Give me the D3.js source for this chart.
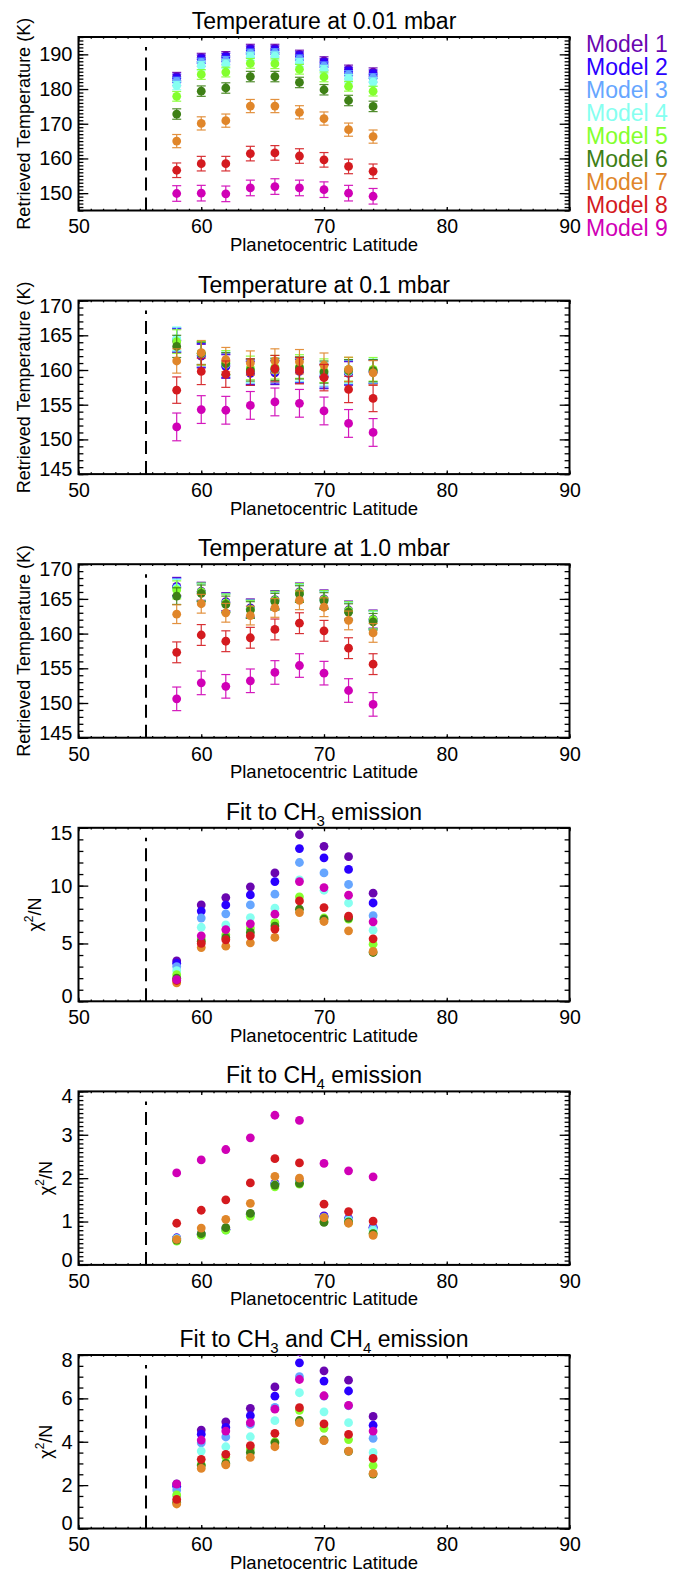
<!DOCTYPE html>
<html><head><meta charset="utf-8">
<script src="https://cdn.jsdelivr.net/npm/d3@7"></script>
<style>
body{margin:0;background:#fff;}
svg text{font-family:"Liberation Sans",Arial,Helvetica,sans-serif;fill:#000;}
</style></head><body>
<svg id="fig" width="688" height="1572"></svg>
<script>
// Latitude grid of the retrievals
const latitudes = [58, 60, 62, 64, 66, 68, 70, 72, 74];
const boundaryLatitude = 55.5;

const modelNames = ["Model 1","Model 2","Model 3","Model 4","Model 5","Model 6","Model 7","Model 8","Model 9"];
const modelColors = ["#6a06b0","#2a00ff","#66a6ff","#86fff0","#84ff2e","#3e8016","#e0862a","#d41a1f","#d000b6"];

// Retrieved temperature at 0.01 mbar (K), one row per model
const temp001 = [
  [183.6,189.1,189.6,191.7,191.7,190.0,188.1,185.7,184.9],
  [183.1,188.6,189.1,191.2,191.2,189.5,187.5,185.1,184.3],
  [182.2,187.7,188.2,190.3,190.4,188.6,186.6,184.1,183.2],
  [181.0,186.7,187.2,189.4,189.5,187.6,185.6,183.0,182.0],
  [177.9,184.2,184.9,187.4,187.3,185.7,183.5,180.8,179.4],
  [172.8,179.4,180.3,183.6,183.6,181.9,179.8,176.7,175.0],
  [165.0,170.1,170.9,175.1,175.1,173.3,171.5,168.3,166.3],
  [156.6,158.5,158.5,161.4,161.6,160.7,159.6,157.7,156.3],
  [149.9,150.0,149.8,151.5,151.9,151.5,151.0,150.0,149.1]
];
const err001 = [1.2,1.2,1.2,1.2,1.4,1.5,1.9,2.1,2.25];

// Retrieved temperature at 0.1 mbar (K)
const temp01 = [
  [164.2,162.0,160.5,159.5,159.6,159.8,159.0,159.5,159.7],
  [164.3,162.1,160.6,159.6,159.7,159.9,159.1,159.6,159.8],
  [164.4,162.3,160.8,159.8,159.9,160.0,159.3,159.7,159.8],
  [164.5,162.4,160.9,159.9,160.0,160.1,159.5,159.8,159.9],
  [164.1,162.4,161.1,160.3,160.4,160.5,159.9,160.1,160.1],
  [163.4,162.4,160.9,160.0,160.1,160.3,159.7,159.9,159.9],
  [161.3,162.5,161.5,161.0,161.3,161.2,160.7,160.1,159.6],
  [157.1,159.8,159.4,159.7,160.2,159.9,158.9,157.2,155.9],
  [151.8,154.3,154.2,154.9,155.4,155.2,154.1,152.3,151.0]
];
const err01 = [1.7,1.7,1.7,1.7,1.7,1.6,1.75,1.9,2.0];

// Retrieved temperature at 1.0 mbar (K)
const temp1 = [
  [166.8,166.1,164.6,163.7,164.9,166.0,165.0,163.4,162.1],
  [166.7,166.0,164.5,163.6,164.8,165.9,164.9,163.3,162.0],
  [166.6,165.9,164.4,163.5,164.7,165.8,164.8,163.2,161.9],
  [166.5,165.9,164.4,163.5,164.7,165.8,164.8,163.2,161.9],
  [166.3,166.0,164.4,163.5,164.8,165.9,164.9,163.3,162.0],
  [165.4,165.8,164.2,163.4,164.6,165.7,164.7,163.1,161.7],
  [162.8,164.3,163.0,162.6,163.7,164.8,163.8,161.9,160.1],
  [157.3,159.8,158.9,159.4,160.6,161.5,160.4,157.9,155.6],
  [150.6,152.9,152.4,153.2,154.4,155.4,154.3,151.8,149.8]
];
const err1 = [1.3,1.3,1.3,1.3,1.3,1.2,1.35,1.5,1.7];

// Reduced chi-square of the fit to CH3 emission
const chiCH3 = [
  [3.5,8.33,8.97,9.9,11.1,14.4,13.4,12.5,9.35],
  [3.3,7.8,8.33,9.2,10.35,13.2,12.4,11.4,8.5],
  [3.0,7.2,7.56,8.33,9.26,12.0,11.1,10.1,7.4],
  [2.65,6.4,6.6,7.24,8.05,10.5,9.6,8.5,6.15],
  [2.3,5.4,5.75,6.33,6.8,9.03,7.2,7.1,4.94],
  [2.0,5.2,5.5,5.95,6.5,7.96,7.1,7.2,4.22],
  [1.6,4.65,4.77,5.06,5.52,7.67,6.9,6.09,4.31],
  [1.8,5.0,5.32,5.66,6.24,8.68,8.1,7.36,5.4],
  [1.87,5.66,6.2,6.7,7.53,10.35,9.83,9.17,6.87]
];

// Reduced chi-square of the fit to CH4 emission
const chiCH4 = [
  [0.62,0.70,0.82,1.17,1.88,1.92,1.13,1.07,0.87],
  [0.62,0.71,0.82,1.16,1.87,1.92,1.12,1.06,0.86],
  [0.61,0.70,0.81,1.15,1.86,1.91,1.10,1.05,0.84],
  [0.60,0.70,0.80,1.14,1.85,1.90,1.07,1.02,0.80],
  [0.55,0.68,0.80,1.12,1.80,1.86,1.00,0.97,0.72],
  [0.57,0.72,0.86,1.19,1.84,1.88,0.98,0.99,0.72],
  [0.59,0.85,1.05,1.42,2.04,2.00,1.09,0.96,0.68],
  [0.96,1.26,1.50,1.89,2.45,2.35,1.40,1.23,1.01],
  [2.12,2.42,2.66,2.93,3.45,3.33,2.34,2.17,2.03]
];

// Reduced chi-square of the joint CH3 + CH4 fit
const chiBoth = [
  [2.06,4.54,4.92,5.54,6.53,8.15,7.27,6.84,5.17],
  [1.95,4.35,4.66,5.2,6.1,7.64,6.8,6.34,4.76],
  [1.77,3.95,4.22,4.8,5.58,7.0,6.1,5.66,4.16],
  [1.5,3.57,3.77,4.23,4.97,6.26,5.38,4.88,3.51],
  [1.55,2.95,3.3,3.67,4.0,5.45,4.62,4.1,2.9],
  [1.2,2.9,3.0,3.5,3.95,4.98,4.08,3.56,2.51],
  [1.13,2.77,2.93,3.28,3.77,4.88,4.05,3.57,2.54],
  [1.34,3.19,3.42,3.82,4.39,5.57,4.82,4.34,3.23],
  [2.05,4.08,4.49,4.88,5.5,6.87,6.12,5.68,4.49]
];

const xTicks = [50, 60, 70, 80, 90];
const panelTitles = ["Temperature at 0.01 mbar","Temperature at 0.1 mbar","Temperature at 1.0 mbar",
  "Fit to CH_3 emission","Fit to CH_4 emission","Fit to CH_3 and CH_4 emission"];

const panels = [
  {title: panelTitles[0], data: temp001, err: err001, domain: [145,195], major: 10, minor: 1, ylab: "T"},
  {title: panelTitles[1], data: temp01,  err: err01,  domain: [145,170], major: 5,  minor: 1, ylab: "T"},
  {title: panelTitles[2], data: temp1,   err: err1,   domain: [145,170], major: 5,  minor: 1, ylab: "T"},
  {title: panelTitles[3], data: chiCH3,  err: null,   domain: [0,15],    major: 5,  minor: 1, ylab: "C"},
  {title: panelTitles[4], data: chiCH4,  err: null,   domain: [0,4],     major: 1,  minor: 0.1, ylab: "C"},
  {title: panelTitles[5], data: chiBoth, err: null,   domain: [0,8],     major: 2,  minor: 0.5, ylab: "C"}
];

// Layout
const X0 = 78.5, X1 = 569.5, TOP0 = 37, STEP = 263.6, PH = 173.5;
const TL_Y = 9.8, TL_X = 3.5;   // tick lengths (inward)
const R = 4.4;
const FONT = '"Liberation Sans",Arial,sans-serif';

const svg = d3.select("#fig");
const x = d3.scaleLinear().domain([50, 90]).range([X0, X1]);

// multiples of step lying inside [a, b]
function multiples(a, b, s) {
  const out = [];
  const i0 = Math.ceil(a / s - 1e-9), i1 = Math.floor(b / s + 1e-9);
  for (let i = i0; i <= i1; i++) out.push(+(i * s).toFixed(6));
  return out;
}

function addScripted(textSel, str, subSize, shift) {
  const parts = str.split(/_(\d)/);
  let pending = 0;
  parts.forEach((p, i) => {
    if (!p) return;
    if (i % 2 === 1) {
      textSel.append("tspan").attr("font-size", subSize).attr("dy", shift).text(p);
      pending = -shift;
    } else {
      textSel.append("tspan").attr("dy", pending || null).text(p);
      pending = 0;
    }
  });
}

panels.forEach((p, pi) => {
  const top = TOP0 + pi * STEP, bot = top + PH;
  const y = d3.scaleLinear().domain(p.domain).range([bot, top]);
  const g = svg.append("g");

  const clipId = "clip" + pi;
  svg.append("clipPath").attr("id", clipId).append("rect")
    .attr("x", X0).attr("y", top).attr("width", X1 - X0).attr("height", PH);

  // title
  const t = g.append("text").attr("x", (X0 + X1) / 2).attr("y", top - 8)
    .attr("text-anchor", "middle").attr("font-size", 23);
  addScripted(t, p.title, 15, 6);

  // axes (ticks inward on all four sides)
  const majors = multiples(p.domain[0], p.domain[1], p.major);
  const minors = multiples(p.domain[0], p.domain[1], p.minor);
  const xMinor = multiples(50, 90, 1);

  const axStyle = sel => {
    sel.select(".domain").remove();
    sel.selectAll("line").attr("stroke", "#000").attr("stroke-width", 1.3);
  };

  g.append("g").attr("transform", `translate(0,${bot})`)
    .call(d3.axisBottom(x).tickValues(xMinor).tickSize(-TL_X / 2).tickFormat(""))
    .call(axStyle);
  g.append("g").attr("transform", `translate(0,${top})`)
    .call(d3.axisTop(x).tickValues(xMinor).tickSize(-TL_X / 2).tickFormat(""))
    .call(axStyle);
  g.append("g").attr("transform", `translate(0,${bot})`)
    .call(d3.axisBottom(x).tickValues(xTicks).tickSize(-TL_X).tickPadding(9).tickFormat(d3.format("d")))
    .call(axStyle)
    .selectAll("text").attr("font-size", 19.5).attr("fill", "#000").attr("font-family", FONT);
  g.append("g").attr("transform", `translate(0,${top})`)
    .call(d3.axisTop(x).tickValues(xTicks).tickSize(-TL_X).tickFormat(""))
    .call(axStyle);

  g.append("g").attr("transform", `translate(${X0},0)`)
    .call(d3.axisLeft(y).tickValues(minors).tickSize(-TL_Y / 2).tickFormat(""))
    .call(axStyle);
  g.append("g").attr("transform", `translate(${X1},0)`)
    .call(d3.axisRight(y).tickValues(minors).tickSize(-TL_Y / 2).tickFormat(""))
    .call(axStyle);
  const yl = g.append("g").attr("transform", `translate(${X0},0)`)
    .call(d3.axisLeft(y).tickValues(majors).tickSize(-TL_Y).tickPadding(6).tickFormat(d3.format("d")))
    .call(axStyle);
  yl.selectAll("text").attr("font-size", 20).attr("fill", "#000").attr("font-family", FONT)
    .attr("transform", d => d === p.domain[1] ? "translate(0,5)" : d === p.domain[0] ? "translate(0,-5)" : null);
  g.append("g").attr("transform", `translate(${X1},0)`)
    .call(d3.axisRight(y).tickValues(majors).tickSize(-TL_Y).tickFormat(""))
    .call(axStyle);

  // frame
  g.append("rect").attr("x", X0).attr("y", top).attr("width", X1 - X0).attr("height", PH)
    .attr("fill", "none").attr("stroke", "#000").attr("stroke-width", 2);

  // x-axis title
  g.append("text").attr("x", (X0 + X1) / 2).attr("y", bot + 40.5)
    .attr("text-anchor", "middle").attr("font-size", 18.5).text("Planetocentric Latitude");

  // y-axis title
  const nChars = d3.max(majors, d => String(d).length);
  const bx = X0 - 6 - nChars * 11 - 10;
  const yt = g.append("text").attr("transform", `translate(${bx},${(top + bot) / 2}) rotate(-90)`)
    .attr("text-anchor", "middle").attr("font-size", 18);
  if (p.ylab === "T") {
    yt.text("Retrieved Temperature (K)");
  } else {
    yt.append("tspan").text("\u03C7");
    yt.append("tspan").attr("font-size", 12).attr("dy", -8).text("2");
    yt.append("tspan").attr("dy", 8).text("/N");
  }

  // boundary marker
  g.append("line").attr("x1", x(boundaryLatitude)).attr("x2", x(boundaryLatitude))
    .attr("y1", bot).attr("y2", top + 10)
    .attr("stroke", "#000").attr("stroke-width", 2).attr("stroke-dasharray", "13,7");

  // data: one model at a time, later models drawn on top
  const plot = g.append("g").attr("clip-path", `url(#${clipId})`);
  p.data.forEach((row, mi) => {
    const col = modelColors[mi];
    const pts = latitudes.map((lat, k) => ({lat, v: row[k]}));
    if (p.err) {
      const e = p.err[mi];
      const eb = plot.append("g").attr("stroke", col).attr("stroke-width", 1.2).attr("opacity", 0.9);
      pts.forEach(d => {
        const cx = x(d.lat), ylo = y(d.v - e), yhi = y(d.v + e);
        eb.append("line").attr("x1", cx).attr("x2", cx).attr("y1", ylo).attr("y2", yhi);
        eb.append("line").attr("x1", cx - 4.5).attr("x2", cx + 4.5).attr("y1", ylo).attr("y2", ylo);
        eb.append("line").attr("x1", cx - 4.5).attr("x2", cx + 4.5).attr("y1", yhi).attr("y2", yhi);
      });
    }
    plot.append("g").selectAll("circle").data(pts).join("circle")
      .attr("cx", d => x(d.lat)).attr("cy", d => y(d.v)).attr("r", R).attr("fill", col);
  });
});

// legend
const legend = svg.append("g");
modelNames.forEach((name, i) => {
  legend.append("text").attr("x", 586).attr("y", 52 + i * 23)
    .attr("font-size", 23).style("fill", modelColors[i]).text(name);
});
</script>
</body></html>
